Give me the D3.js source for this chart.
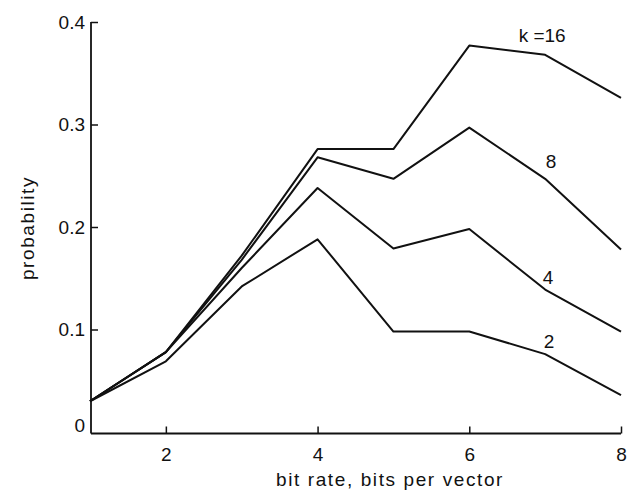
<!DOCTYPE html>
<html>
<head>
<meta charset="utf-8">
<script src="https://cdn.jsdelivr.net/npm/d3@7"></script>
<style>
  html, body { margin: 0; padding: 0; background: #fff; }
  svg { display: block; }
  text { font-family: "Liberation Sans", Arial, sans-serif; fill: #111; }
</style>
</head>
<body>
<svg id="chart" width="633" height="491"></svg>
<script>
// Bit rate (bits per vector)
const bitRates = [1, 2, 3, 4, 5, 6, 7, 8];

// Probability for each codebook size k
const k2  = [0.030, 0.069, 0.142, 0.188, 0.098, 0.098, 0.076, 0.036];
const k4  = [0.030, 0.078, 0.160, 0.238, 0.179, 0.198, 0.139, 0.098];
const k8  = [0.030, 0.078, 0.168, 0.268, 0.247, 0.297, 0.247, 0.178];
const k16 = [0.030, 0.078, 0.172, 0.276, 0.276, 0.377, 0.368, 0.326];

const seriesNames = ["k =16", "8", "4", "2"];
const seriesValues = [k16, k8, k4, k2];

const xTicks = [2, 4, 6, 8];
const yTicks = [0, 0.1, 0.2, 0.3, 0.4];
const yTickLabels = ["0", "0.1", "0.2", "0.3", "0.4"];

const xTitle = "bit rate, bits per vector";
const yTitle = "probability";

const svg = d3.select("#chart");
const plotLeft = 90, plotRight = 621, plotTop = 22, plotBottom = 432;

const x = d3.scaleLinear().domain([1, 8]).range([plotLeft, plotRight]);
const y = d3.scaleLinear().domain([0, 0.4]).range([plotBottom, plotTop]);
const axisY = plotBottom + 1.5;

// Axes: ticks point inward
const gx = svg.append("g").attr("transform", `translate(0,${axisY})`)
  .call(d3.axisBottom(x).tickValues(xTicks).tickSizeInner(-7).tickSizeOuter(0)
    .tickFormat(d3.format("d")));
gx.select(".domain").remove();
gx.selectAll(".tick line").attr("stroke", "#111").attr("stroke-width", 1.5);
gx.selectAll(".tick text").attr("font-size", 19).attr("dy", "1.3em").attr("fill", "#111")
  .style("font-family", "'Liberation Sans', Arial, sans-serif");

const gy = svg.append("g").attr("transform", `translate(${plotLeft + 1},0)`)
  .call(d3.axisLeft(y).tickValues(yTicks).tickSizeInner(-7).tickSizeOuter(0)
    .tickFormat((d, i) => yTickLabels[i]));
gy.select(".domain").remove();
gy.selectAll(".tick line").attr("stroke", "#111").attr("stroke-width", 1.5)
  .attr("display", d => d === 0 ? "none" : null);
gy.selectAll(".tick text").attr("font-size", 19).attr("x", -6).attr("fill", "#111")
  .attr("dy", d => d === 0 ? "-0.05em" : "0.32em")
  .style("font-family", "'Liberation Sans', Arial, sans-serif");

// Axis lines
svg.append("line").attr("x1", plotLeft + 1).attr("x2", plotLeft + 1)
  .attr("y1", y(0.4)).attr("y2", axisY)
  .attr("stroke", "#111").attr("stroke-width", 1.8);
svg.append("line").attr("x1", plotLeft + 1).attr("x2", x(8))
  .attr("y1", axisY).attr("y2", axisY)
  .attr("stroke", "#111").attr("stroke-width", 1.8);

// Curves
const line = d3.line().x((d, i) => x(bitRates[i])).y(d => y(d));
svg.append("g").selectAll("path").data(seriesValues).join("path")
  .attr("d", line)
  .attr("fill", "none")
  .attr("stroke", "#111")
  .attr("stroke-width", 2)
  .attr("stroke-linejoin", "round");

// Curve labels above the x = 7 point of each curve
const labelShift = [[-3, -19], [6, -17], [3, -12], [4, -13]];
svg.append("g").selectAll("text").data(seriesValues).join("text")
  .attr("x", (d, i) => x(7) + labelShift[i][0])
  .attr("y", (d, i) => y(d[6]) + labelShift[i][1])
  .attr("text-anchor", "middle")
  .attr("dominant-baseline", "central")
  .attr("font-size", 19)
  .text((d, i) => seriesNames[i]);

// Axis titles
svg.append("text").attr("x", 390).attr("y", 486)
  .attr("text-anchor", "middle").attr("font-size", 19)
  .attr("letter-spacing", 1.6)
  .text(xTitle);
svg.append("text")
  .attr("transform", "translate(34,228) rotate(-90)")
  .attr("text-anchor", "middle").attr("font-size", 19)
  .attr("letter-spacing", 1.6)
  .text(yTitle);
</script>
</body>
</html>
